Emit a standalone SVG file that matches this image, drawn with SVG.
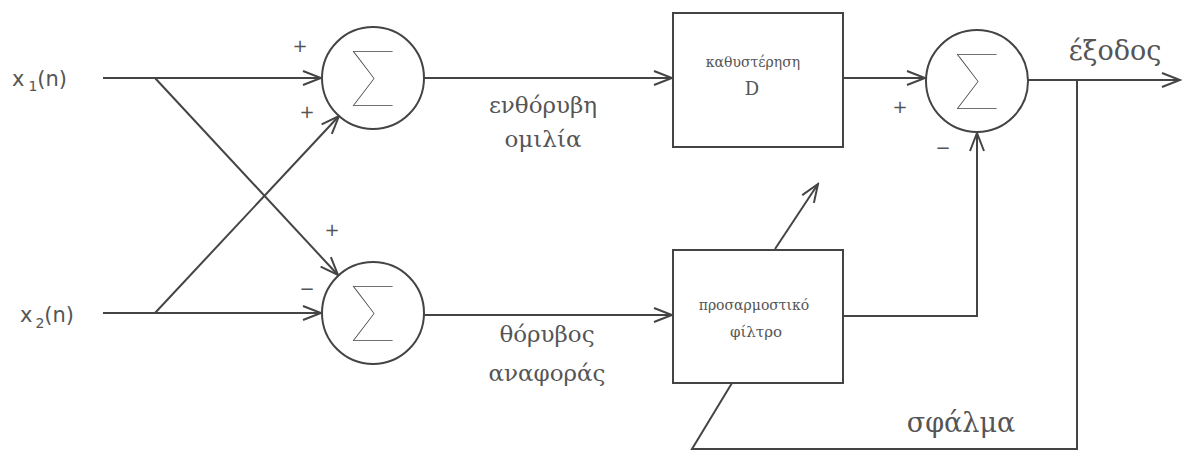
<svg xmlns="http://www.w3.org/2000/svg" width="1186" height="452" viewBox="0 0 1186 452">
<style>
.ln{fill:none;stroke:#444;stroke-width:2}
.nd{fill:#fff;stroke:#444;stroke-width:2}
.sig{font-family:Lato,"Open Sans",sans-serif;font-weight:100;font-size:78px;fill:#444;text-anchor:middle}
.gr{font-family:"DejaVu Serif","Liberation Serif",serif;fill:#555;text-anchor:middle}
.sg{font-family:"DejaVu Sans","Liberation Sans",sans-serif;fill:#555;text-anchor:middle}
.st{text-anchor:start}
</style>
<defs>
<marker id="ah" markerWidth="22" markerHeight="18" refX="20" refY="9" orient="auto" markerUnits="userSpaceOnUse">
<path d="M2,2 L20,9 L2,16" fill="none" stroke="#444" stroke-width="2"/>
</marker>
</defs>
<g id="connectors">
<path class="ln" d="M103,78 H321" marker-end="url(#ah)"/>
<path class="ln" d="M103,313 H321" marker-end="url(#ah)"/>
<path class="ln" d="M155,78 L338,275" marker-end="url(#ah)"/>
<path class="ln" d="M155,313 L339,116" marker-end="url(#ah)"/>
<path class="ln" d="M424,78 H672" marker-end="url(#ah)"/>
<path class="ln" d="M424,315 H672" marker-end="url(#ah)"/>
<path class="ln" d="M843,78 H925" marker-end="url(#ah)"/>
<path class="ln" d="M843,316 H977 V133" marker-end="url(#ah)"/>
<path class="ln" d="M1028,80 H1180" marker-end="url(#ah)"/>
<path class="ln" d="M1077,80 V449 H692 L732,383"/>
<path class="ln" d="M775,249 L818,184" marker-end="url(#ah)"/>
</g>
<g id="sum1"><circle class="nd" cx="373" cy="78" r="51"/><text class="sig" x="373" y="106">Σ</text></g>
<g id="sum2"><circle class="nd" cx="373" cy="313" r="51"/><text class="sig" x="373" y="341">Σ</text></g>
<g id="sum3"><circle class="nd" cx="977" cy="81" r="51"/><text class="sig" x="977" y="109">Σ</text></g>
<g id="delay"><rect class="nd" x="673" y="13" width="170" height="134"/>
<text class="gr" x="753" y="67" font-size="14">καθυστέρηση</text>
<text class="gr" x="752" y="95" font-size="18">D</text></g>
<g id="filter"><rect class="nd" x="673" y="250" width="170" height="133"/>
<text class="gr" x="754" y="310" font-size="14">προσαρμοστικό</text>
<text class="gr" x="756" y="337" font-size="15">φίλτρο</text></g>
<g id="labels">
<text class="sg st" x="12" y="86" font-size="21">x<tspan dx="4" dy="5" font-size="14">1</tspan><tspan dy="-5">(n)</tspan></text>
<text class="sg st" x="20" y="322" font-size="21">x<tspan dx="3" dy="6" font-size="14">2</tspan><tspan dy="-6">(n)</tspan></text>
<text class="sg" x="300" y="52" font-size="18">+</text>
<text class="sg" x="307" y="118" font-size="18">+</text>
<text class="sg" x="332" y="236" font-size="18">+</text>
<text class="sg" x="307" y="295" font-size="18">−</text>
<text class="sg" x="900" y="113" font-size="18">+</text>
<text class="sg" x="943" y="154" font-size="18">−</text>
<text class="gr" x="543" y="113" font-size="23">ενθόρυβη</text>
<text class="gr" x="543" y="147" font-size="23">ομιλία</text>
<text class="gr" x="547" y="342" font-size="23">θόρυβος</text>
<text class="gr" x="547" y="381" font-size="23">αναφοράς</text>
<text class="gr" x="1115" y="60" font-size="27">έξοδος</text>
<text class="gr" x="961" y="432" font-size="27">σφάλμα</text>
</g>
</svg>
